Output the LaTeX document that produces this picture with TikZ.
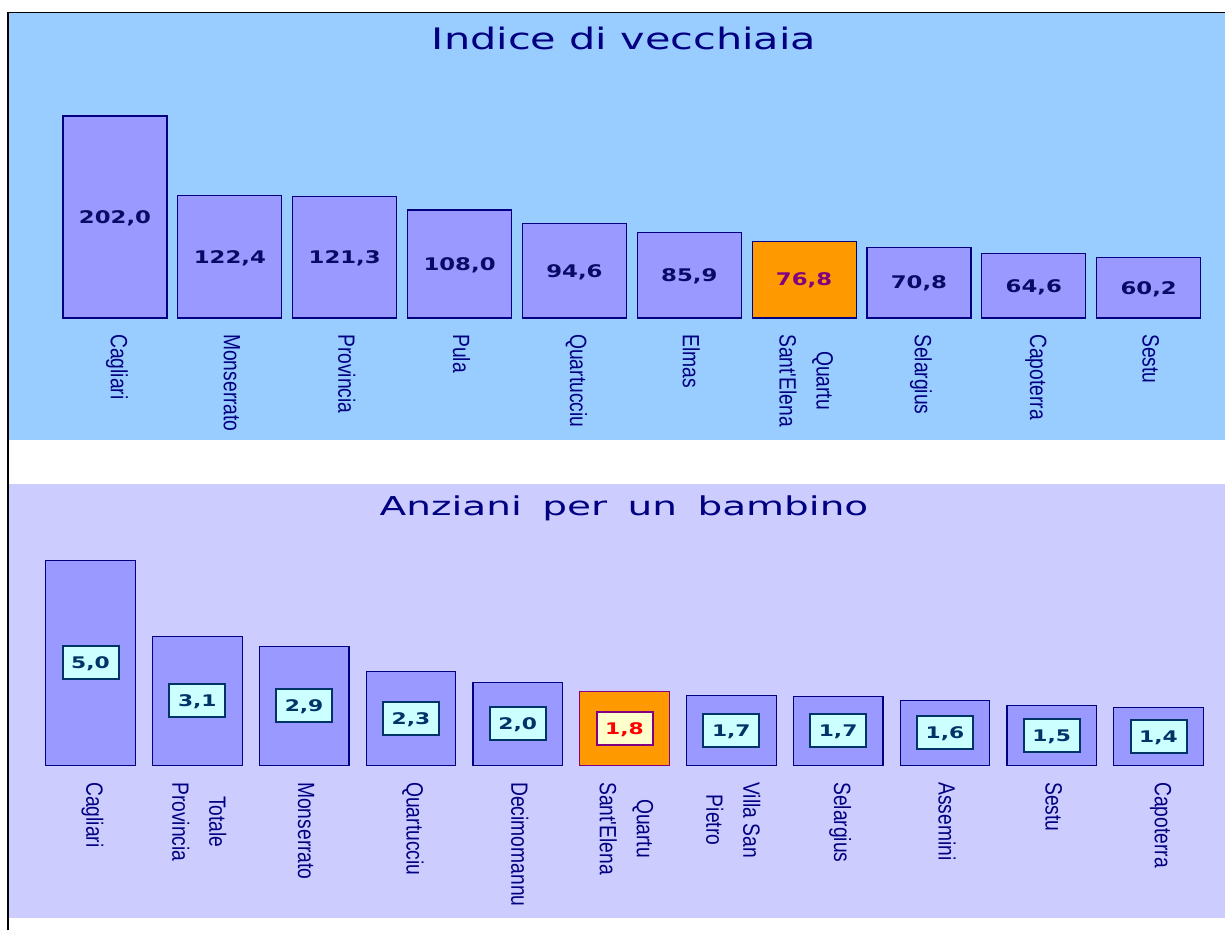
\documentclass[tikz,border=0pt]{standalone}
\usepackage{fontspec}
\newfontfamily\titlefontA[FakeStretch=1.4]{DejaVu Sans}
\newfontfamily\titlefontB[FakeStretch=1.5,WordSpace={1.65}]{DejaVu Sans}
\newfontfamily\numfontA[FakeStretch=1.31]{DejaVu Sans}
\newfontfamily\numfontB[FakeStretch=1.36]{DejaVu Sans}
\newfontfamily\labfont[FakeStretch=0.82]{Liberation Sans}
\definecolor{topbg}{HTML}{99CCFF}
\definecolor{botbg}{HTML}{CCCCFF}
\definecolor{barfill}{HTML}{9999FF}
\definecolor{navy}{HTML}{000080}
\definecolor{numnavy}{HTML}{0A0A66}
\definecolor{orng}{HTML}{FF9900}
\definecolor{purp}{HTML}{800080}
\definecolor{tealb}{HTML}{003366}
\definecolor{cyanl}{HTML}{CCFFFF}
\definecolor{yell}{HTML}{FFFFCC}
\begin{document}
\begin{tikzpicture}[x=1pt,y=-1pt,
  tbar/.style={draw=navy, line width=1.2pt, fill=barfill, minimum width=104pt, inner sep=0pt, outer sep=0pt, anchor=south},
  tbaro/.style={tbar, fill=orng},
  bbar/.style={tbar, minimum width=89.6pt},
  bbaro/.style={bbar, fill=orng, draw=purp},
  tnum/.style={font=\numfontA\bfseries\fontsize{17.4}{20}\selectfont, text=numnavy, inner sep=0pt, text height=12.7pt, text depth=0pt},
  tnumo/.style={tnum, text=purp},
  bnum/.style={font=\numfontB\bfseries\fontsize{16}{19}\selectfont, text=tealb, draw=tealb, fill=cyanl, line width=2pt, inner sep=0pt, minimum width=56pt, minimum height=33pt, text height=11.7pt, text depth=0pt},
  bnumo/.style={bnum, text=red, draw=purp, fill=yell},
  lab/.style={font=\labfont\fontsize{23.5}{37}\selectfont, text=navy, rotate=-90, anchor=west, align=center, inner sep=0pt},
  titleA/.style={font=\titlefontA\fontsize{29.6}{34}\selectfont, text=navy, anchor=base, inner sep=0pt},
  titleB/.style={font=\titlefontB\fontsize{26}{30}\selectfont, text=navy, anchor=base, inner sep=0pt}
]
\fill[white] (0,0) rectangle (1225,930);
\useasboundingbox (0,0) rectangle (1225,930);
% panels
\fill[topbg] (8,12) rectangle (1225,440);
\fill[botbg] (8,484) rectangle (1225,918);
\draw[black, line width=1.4pt] (8,930) -- (8,12.5) -- (1225,12.5);
% titles
\node[titleA] (t1) at (624,49.3) {Indice di vecchiaia};
\node[titleB] (t2) at (624,515.3) {Anziani per un bambino};
% top chart
\foreach \i/\h/\t/\l/\bs/\ns in {
  0/202/{202,0}/{Cagliari}/tbar/tnum,
  1/122.4/{122,4}/{Monserrato}/tbar/tnum,
  2/121.3/{121,3}/{Provincia}/tbar/tnum,
  3/108/{108,0}/{Pula}/tbar/tnum,
  4/94.6/{94,6}/{Quartucciu}/tbar/tnum,
  5/85.9/{85,9}/{Elmas}/tbar/tnum,
  6/76.8/{76,8}/{Quartu\\Sant'Elena}/tbaro/tnumo,
  7/70.8/{70,8}/{Selargius}/tbar/tnum,
  8/64.6/{64,6}/{Capoterra}/tbar/tnum,
  9/60.2/{60,2}/{Sestu}/tbar/tnum}{
  \node[\bs, minimum height=\h pt] (tb\i) at ({115+114.85*\i},318) {};
  \node[\ns] (tv\i) at (tb\i.center) {\t};
  \node[lab] (tl\i) at ([xshift=2pt,yshift=-16pt]tb\i.south) {\l};
}
% bottom chart
\foreach \i/\h/\t/\l/\bs/\ns in {
  0/205/{5,0}/{Cagliari}/bbar/bnum,
  1/129/{3,1}/{Totale\\Provincia}/bbar/bnum,
  2/119/{2,9}/{Monserrato}/bbar/bnum,
  3/94/{2,3}/{Quartucciu}/bbar/bnum,
  4/83/{2,0}/{Decimomannu}/bbar/bnum,
  5/74/{1,8}/{Quartu\\Sant'Elena}/bbaro/bnumo,
  6/70/{1,7}/{Villa San\\Pietro}/bbar/bnum,
  7/69/{1,7}/{Selargius}/bbar/bnum,
  8/65/{1,6}/{Assemini}/bbar/bnum,
  9/60/{1,5}/{Sestu}/bbar/bnum,
  10/58/{1,4}/{Capoterra}/bbar/bnum}{
  \node[\bs, minimum height=\h pt] (bb\i) at ({90.5+106.8*\i},765.3) {};
  \node[\ns] (bv\i) at (bb\i.center) {\t};
  \node[lab] (bl\i) at ([xshift=2pt,yshift=-16.7pt]bb\i.south) {\l};
}
\end{tikzpicture}
\end{document}
